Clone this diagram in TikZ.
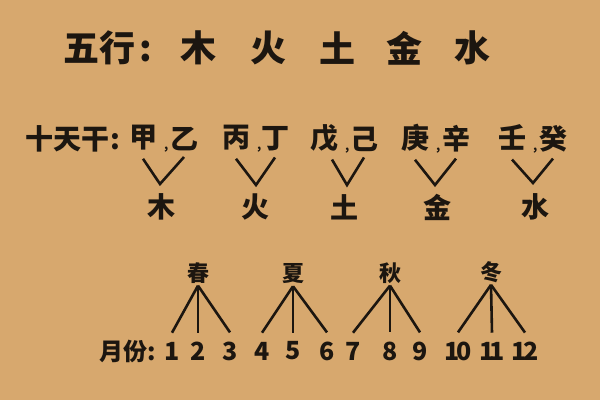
\documentclass[tikz,border=0pt]{standalone}
\usepackage{fontspec}
\setmainfont{Noto Sans CJK SC}
\definecolor{paper}{RGB}{215,168,110}
\definecolor{ink}{RGB}{28,22,16}
\newcommand{\sepcomma}{\rlap{\kern7pt\raisebox{-2pt}{\fontsize{12}{12}\selectfont,}}}

\begin{document}
\begin{tikzpicture}[x=1pt,y=-1pt]
                \fill[paper] (0,0) rectangle (600,400);
                \useasboundingbox (0,0) rectangle (600,400);

                \begin{scope}[every node/.style={text=ink,inner sep=0,font=\bfseries\fontsize{36}{36}\selectfont}]
                        \node [anchor=west] (title) at (63,48) {五行\kern4pt:};
                        \node (t-mu) at (198,48) {木};
                        \node (t-huo) at (268,48) {火};
                        \node (t-tu) at (337,48) {土};
                        \node (t-jin) at (404,48) {金};
                        \node (t-shui) at (472,48) {水};
                \end{scope}

                \begin{scope}[every node/.style={text=ink,inner xsep=0,inner ysep=6pt,font=\bfseries\fontsize{28}{28}\selectfont}]
                        \node [anchor=west] (stems) at (25,139) {十天干\kern1pt:};
                        \node (jia) at (143,139) {甲\sepcomma};
                        \node (yi) at (184,139) {乙};
                        \node (bing) at (236,139) {丙\sepcomma};
                        \node (ding) at (275,139) {丁};
                        \node (wu) at (324,139) {戊\sepcomma};
                        \node (ji) at (364,139) {己};
                        \node (geng) at (415,139) {庚\sepcomma};
                        \node (xin) at (456,139) {辛};
                        \node (ren) at (512,139) {壬\sepcomma};
                        \node (gui) at (553,139) {癸};
                        \node (mu) at (161,207) {木};
                        \node (huo) at (255,207) {火};
                        \node (tu) at (344,207) {土};
                        \node (jin) at (437,207) {金};
                        \node (shui) at (535,207) {水};
                \end{scope}

                \coordinate (v-mu) at (160,184);
                \coordinate (v-huo) at (256,185);
                \coordinate (v-tu) at (347,185);
                \coordinate (v-jin) at (435,185);
                \coordinate (v-shui) at (533,183);

                \begin{scope}[every node/.style={text=ink,inner xsep=0,inner ysep=2pt,font=\bfseries\fontsize{22}{22}\selectfont}]
                        \node (spring) at (198,273) {春};
                        \node (summer) at (293,274) {夏};
                        \node (autumn) at (390,273) {秋};
                        \node (winter) at (491,272) {冬};
                        \node [anchor=west,inner sep=0,font=\bfseries\fontsize{24}{24}\selectfont] (months) at (99,351) {月份:};
                \end{scope}

                \begin{scope}[every node/.style={text=ink,inner xsep=0,inner ysep=9pt,font=\bfseries\fontsize{25}{25}\selectfont}]
                        \node (m1) at (172,351) {1};
                        \node (m2) at (198,351) {2};
                        \node (m3) at (230,351) {3};
                        \node (m4) at (262,351) {4};
                        \node (m5) at (293,351) {5};
                        \node (m6) at (327,351) {6};
                        \node (m7) at (353,351) {7};
                        \node (m8) at (390,351) {8};
                        \node (m9) at (420,351) {9};
                        \node (m10) at (458,351) {1\kern-4pt0};
                        \node (m11) at (492,351) {1\kern-5pt1};
                        \node (m12) at (525,351) {1\kern-4pt2};
                \end{scope}

                \begin{scope}[every path/.style={draw=ink,line width=2.6pt}]
                        \draw (jia.south) -- (v-mu) -- (yi.south);
                        \draw (bing.south) -- (v-huo) -- (ding.south);
                        \draw ([xshift=8pt]wu.south) -- (v-tu) -- (ji.south);
                        \draw (geng.south) -- (v-jin) -- (xin.south);
                        \draw (ren.south) -- (v-shui) -- (gui.south);
                        \draw (spring.south) -- (m1.north);
                        \draw (spring.south) -- (m2.north);
                        \draw (spring.south) -- (m3.north);
                        \draw (summer.south) -- (m4.north);
                        \draw (summer.south) -- (m5.north);
                        \draw (summer.south) -- (m6.north);
                        \draw (autumn.south) -- (m7.north);
                        \draw (autumn.south) -- (m8.north);
                        \draw (autumn.south) -- (m9.north);
                        \draw (winter.south) -- (m10.north);
                        \draw (winter.south) -- (m11.north);
                        \draw (winter.south) -- (m12.north);
                \end{scope}
\end{tikzpicture}
\end{document}
